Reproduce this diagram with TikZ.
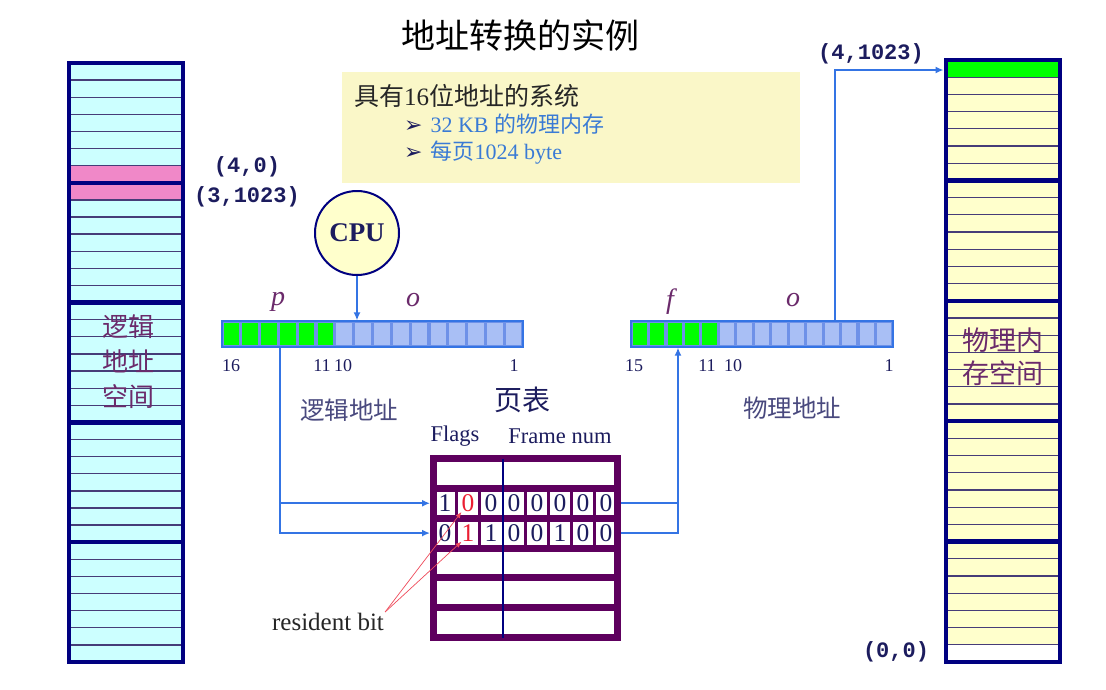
\documentclass[tikz,border=0pt]{standalone}
\usepackage{fontspec}
\setmainfont{Liberation Serif}
\setmonofont{Liberation Mono}
\newfontfamily\cjk{Noto Sans CJK SC}
\newfontfamily\symfont{DejaVu Sans}
\usetikzlibrary{arrows.meta, positioning, calc}
\definecolor{memnavy}{RGB}{0,0,128}
\definecolor{memcyan}{RGB}{204,255,255}
\definecolor{memyellow}{RGB}{255,255,204}
\definecolor{rowpink}{RGB}{240,136,200}
\definecolor{rowgray}{RGB}{70,60,120}
\definecolor{framegreen}{RGB}{0,255,0}
\definecolor{infofill}{RGB}{250,247,200}
\definecolor{linkblue}{RGB}{52,116,228}
\definecolor{regcell}{RGB}{169,191,245}
\definecolor{reggap}{RGB}{110,145,232}
\definecolor{ptpurple}{RGB}{94,0,94}
\definecolor{textnavy}{RGB}{28,28,94}
\definecolor{zhpurple}{RGB}{107,42,107}
\definecolor{bulletblue}{RGB}{58,123,213}
\definecolor{residred}{RGB}{235,30,50}
\newcommand\infobullet{{\symfont\color{textnavy}\fontsize{22}{24}\selectfont ➢}\hspace{8pt}}
\tikzset{
    titletext/.style={font=\cjk\fontsize{34}{38}\selectfont, text=black},
    infobox/.style={rectangle, fill=infofill, inner sep=0pt},
    infohead/.style={font=\cjk\fontsize{25}{28}\selectfont, text=black!85, inner sep=0pt},
    infoitem/.style={font=\fontsize{22}{24}\selectfont, text=bulletblue, inner sep=0pt},
    memframe/.style={draw=memnavy, line width=4.5pt},
    rowline/.style={draw=rowgray, line width=1.3pt},
    blockline/.style={draw=memnavy, line width=4.5pt},
    memlabel/.style={font=\cjk\fontsize{26}{35}\selectfont, text=zhpurple, align=center, inner sep=0pt},
    addrlabel/.style={font=\ttfamily\bfseries\fontsize{22}{24}\selectfont, text=textnavy, inner sep=0pt},
    cpunode/.style={circle, minimum size=84pt, inner sep=0pt, draw=memnavy, line width=2pt,
                    fill=memyellow, font=\bfseries\fontsize{27}{30}\selectfont, text=textnavy},
    regbox/.style={rectangle, inner sep=0pt, fill=reggap, draw=linkblue, line width=1.2pt},
    bitnum/.style={font=\fontsize{18}{20}\selectfont, text=textnavy, inner sep=0pt},
    fieldlabel/.style={font=\itshape\fontsize{28}{30}\selectfont, text=zhpurple, inner sep=0pt},
    capzh/.style={font=\cjk\fontsize{24.5}{28}\selectfont, text=textnavy!80, inner sep=0pt},
    colhead/.style={font=\fontsize{22.5}{24}\selectfont, text=textnavy, inner sep=0pt},
    ptrow/.style={rectangle, inner sep=0pt, minimum width=184pt, minimum height=29.83pt,
                  draw=ptpurple, line width=7pt, fill=white},
    cellsep/.style={draw=ptpurple, line width=2.5pt},
    ptdivider/.style={draw=memnavy, line width=2pt},
    bitdigit/.style={font=\fontsize{25.5}{27}\selectfont, inner sep=0pt},
    residtext/.style={font=\fontsize{25}{28}\selectfont, text=black!85, inner sep=1pt},
    addrarrow/.style={draw=linkblue, line width=2pt, -{Latex[length=8pt,width=7pt]}},
    addrline/.style={draw=linkblue, line width=2pt},
    residarrow/.style={draw=residred!80, line width=0.7pt, -{Latex[length=6pt,width=5pt]}}
}
\begin{document}
\begin{tikzpicture}[x=1pt, y=-1pt]
    \useasboundingbox[fill=white] (0,0) rectangle (1106,689);

    % Title and system box
    \node[titletext] (title) at (520,35) {地址转换的实例};
    \node[infobox, minimum width=458pt, minimum height=111pt] (info) at (571,127.5) {};
    \node[infohead, anchor=west] (sys) at (354,96) {具有{\rmfamily 16}位地址的系统};
    \node[infoitem, anchor=west] (item1) at (404,124) {\infobullet 32 KB {\cjk 的物理内存}};
    \node[infoitem, anchor=west] (item2) at (404,153) {\infobullet {\cjk 每页}1024 byte};

    % Logical address space
    \fill[memcyan] (69,63) rectangle (183,662);
    \fill[rowpink] (69,165.7) rectangle (183,199.9);
    \foreach \i in {1,...,34}
        \draw[rowline] (69,{63+\i*17.114}) -- (183,{63+\i*17.114});
    \foreach \i in {7,14,21,28}
        \draw[blockline] (69,{63+\i*17.114}) -- (183,{63+\i*17.114});
    \draw[memframe] (69,63) rectangle (183,662);
    \node[memlabel] (lspace) at (128,362) {逻辑\\地址\\空间};

    % Physical memory space
    \fill[memyellow] (946,60) rectangle (1060,662);
    \fill[framegreen] (946,60) rectangle (1060,77.2);
    \fill[white] (946,644.8) rectangle (1060,662);
    \foreach \i in {1,...,34}
        \draw[rowline] (946,{60+\i*17.2}) -- (1060,{60+\i*17.2});
    \foreach \i in {7,14,21,28}
        \draw[blockline] (946,{60+\i*17.2}) -- (1060,{60+\i*17.2});
    \draw[memframe] (946,60) rectangle (1060,662);
    \node[memlabel, font=\cjk\fontsize{27}{33}\selectfont] (pspace) at (1003,357) {物理内\\存空间};
    \coordinate (frame4) at (943.5,70);

    % Address labels
    \node[addrlabel] (a40) at (247,167) {(4,0)};
    \node[addrlabel] (a31023) at (247,197) {(3,1023)};
    \node[addrlabel] (a41023) at (871,54) {(4,1023)};
    \node[addrlabel] (a00) at (896,652) {(0,0)};

    % CPU and logical address
    \node[cpunode] (cpu) at (357,233) {CPU};
    \node[regbox, minimum width=301pt, minimum height=26pt] (lreg) at (372.5,334) {};
    \foreach \i in {0,...,5}
        \fill[framegreen] ({222+\i*18.8125+1.6},323) rectangle ({222+(\i+1)*18.8125-1.6},345);
    \foreach \i in {6,...,15}
        \fill[regcell] ({222+\i*18.8125+1.6},323) rectangle ({222+(\i+1)*18.8125-1.6},345);
    \node[fieldlabel] (pfield) at (278,302) {p};
    \node[fieldlabel] (lofield) at (413,300) {o};
    \node[bitnum] (l16) at (231,366) {16};
    \node[bitnum] (l11) at (322,366) {11};
    \node[bitnum] (l10) at (343,366) {10};
    \node[bitnum] (l1) at (514,366) {1};
    \node[capzh] (lcap) at (349,410) {逻辑地址};

    % Physical address
    \node[regbox, minimum width=262pt, minimum height=26pt] (preg) at (762,334) {};
    \foreach \i in {0,...,4}
        \fill[framegreen] ({631+\i*17.4667+1.6},323) rectangle ({631+(\i+1)*17.4667-1.6},345);
    \foreach \i in {5,...,14}
        \fill[regcell] ({631+\i*17.4667+1.6},323) rectangle ({631+(\i+1)*17.4667-1.6},345);
    \node[fieldlabel] (ffield) at (670,302) {f};
    \node[fieldlabel] (pofield) at (793,300) {o};
    \node[bitnum] (p15) at (634,366) {15};
    \node[bitnum] (p11) at (707,366) {11};
    \node[bitnum] (p10) at (733,366) {10};
    \node[bitnum] (p1) at (889,366) {1};
    \node[capzh] (pcap) at (792,408) {物理地址};

    % Page table
    \node[capzh, font=\cjk\fontsize{28}{30}\selectfont, text=textnavy] (pthead) at (522,400) {页表};
    \node[colhead] (flags) at (455,436) {Flags};
    \node[colhead] (fnum) at (560,436) {Frame num};
    \foreach \r in {1,...,6}
        \node[ptrow] (pt\r) at (525.5,{458.5+(\r-0.5)*29.83}) {};
    \foreach \r in {2,3}
        \foreach \c in {1,2,4,5,6,7}
            \draw[cellsep] ({433.5+\c*23},{458.5+(\r-1)*29.83}) -- ({433.5+\c*23},{458.5+\r*29.83});
    \draw[ptdivider] (502.5,458.5) -- (502.5,637.5);
    \foreach \d/\tc [count=\c] in {1/textnavy,0/residred,0/textnavy,0/textnavy,0/textnavy,0/textnavy,0/textnavy,0/textnavy}
        \node[bitdigit, text=\tc] (ea\c) at ({433.5+(\c-0.5)*23},{458.5+1.5*29.83}) {\d};
    \foreach \d/\tc [count=\c] in {0/textnavy,1/residred,1/textnavy,0/textnavy,0/textnavy,1/textnavy,0/textnavy,0/textnavy}
        \node[bitdigit, text=\tc] (eb\c) at ({433.5+(\c-0.5)*23},{458.5+2.5*29.83}) {\d};
    \node[residtext] (rbit) at (328,622) {resident bit};

    % Arrows
    \draw[addrarrow] (cpu.south) -- (cpu.south |- lreg.north);
    \coordinate (ltap) at (280,347);
    \draw[addrarrow] (ltap) |- (pt2.west);
    \draw[addrarrow] (ltap) |- (pt3.west);
    \coordinate (ptap) at (678,347);
    \draw[addrline] (pt2.east) -- (pt2.east -| ptap);
    \draw[addrarrow] (pt3.east) -| (ptap |- preg.south);
    \coordinate (otap) at (835,321);
    \draw[addrarrow] (otap |- preg.north) |- (frame4);
    \draw[residarrow] (rbit.north east) -- (ea2.south west);
    \draw[residarrow] (rbit.north east) -- (eb2.south west);
\end{tikzpicture}
\end{document}
